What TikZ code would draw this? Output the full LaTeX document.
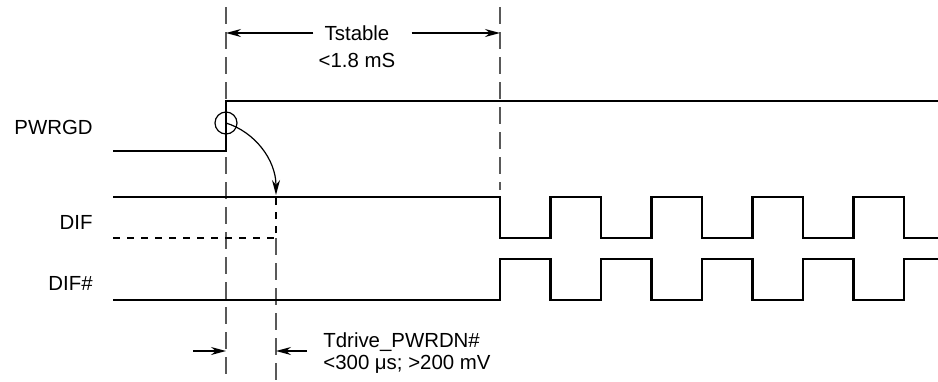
\documentclass[tikz,border=0pt]{standalone}
\usepackage{fontspec}
\setmainfont{Liberation Sans}
\usetikzlibrary{arrows.meta}
\begin{document}
\begin{tikzpicture}[x=0.5pt,y=-0.5pt,
    sig/.style={line width=1.3pt},
    dsig/.style={line width=1.3pt, dash pattern=on 3.5pt off 3.5pt},
    guide/.style={line width=0.7pt, gray!70!black, dash pattern=on 8.5pt off 4pt},
    tip/.style={-{Stealth[length=7.5pt,width=4pt]}, line width=0.6pt},
    lbl/.style={font=\fontsize{10.2}{12}\selectfont, inner sep=0pt}]
  \useasboundingbox (0,0) rectangle (938,381);
  % timing marks
  \coordinate (ton) at (226,0);
  \coordinate (tdrv) at (276,0);
  \coordinate (tclk) at (500,0);
  % guide lines
  \draw[guide] (226,7) -- (226,381);
  \draw[guide] (276,238) -- (276,381);
  \draw[guide] (500,7) -- (500,190);
  % signal names
  \node[lbl, anchor=east] (pwrgd) at (93,127) {PWRGD};
  \node[lbl, anchor=east] (dif) at (93,222) {DIF};
  \node[lbl, anchor=east] (difn) at (93,283) {DIF\#};
  % PWRGD
  \draw[sig] (113,151) -- (226,151) -- (226,101) -- (938,101);
  \node[circle, draw, line width=0.6pt, minimum size=11pt, inner sep=0pt] (edge) at (226,123) {};
  \draw[tip] (edge.center) .. controls (255,132) and (276,160) .. (276,195);
  % DIF and DIF#
  \draw[dsig] (113,238) -- (276,238) -- (276,197);
  \draw[sig] (113,197) \foreach \j in {0,...,3} {
      -- ({500+101*\j},197) -- ({500+101*\j},238)
      -- ({550.5+101*\j},238) -- ({550.5+101*\j},197)}
    -- (904,197) -- (904,238) -- (938,238);
  \draw[sig] (113,300) \foreach \j in {0,...,3} {
      -- ({500+101*\j},300) -- ({500+101*\j},259)
      -- ({550.5+101*\j},259) -- ({550.5+101*\j},300)}
    -- (904,300) -- (904,259) -- (938,259);
  % Tstable
  \node[lbl] (tst) at (357,33) {Tstable};
  \node[lbl] (tmax) at (357,60) {<1.8 mS};
  \draw[tip] ([xshift=-5.5pt]tst.west) -- (ton |- tst);
  \draw[tip] ([xshift=11pt]tst.east) -- (tclk |- tst);
  % Tdrive
  \node[lbl, anchor=west] (tdr) at (323,342) {Tdrive\_PWRDN\#};
  \node[lbl, anchor=west] (tlim) at (323,364) {<300 μs; >200 mV};
  \coordinate (pl) at (193,351);
  \coordinate (pr) at (307,351);
  \draw[tip] (pl) -- (ton |- pl);
  \draw[tip] (pr) -- (tdrv |- pr);
\end{tikzpicture}
\end{document}
